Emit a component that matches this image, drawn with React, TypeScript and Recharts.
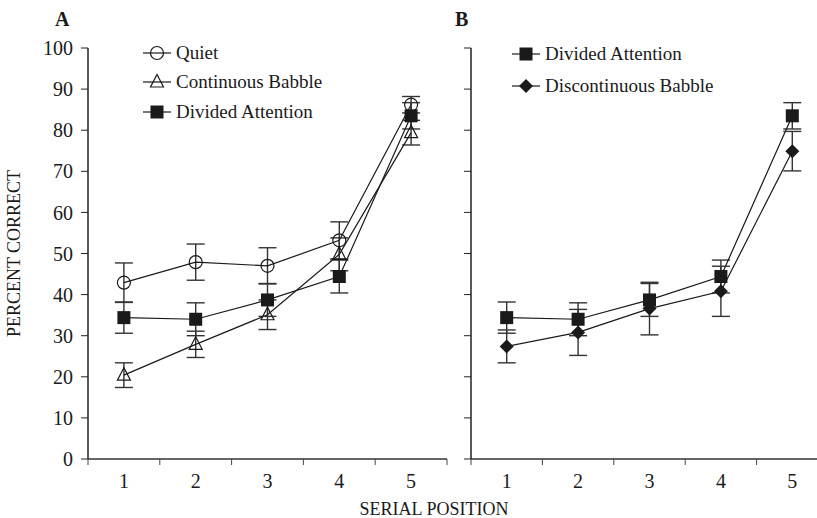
import React from 'react';
import { LineChart, Line, XAxis, YAxis, ErrorBar, Legend } from 'recharts';

const positions = [1, 2, 3, 4, 5];
const boundaryTicks = [0.5, 1.5, 2.5, 3.5, 4.5, 5.5];
const yTicks = [0, 10, 20, 30, 40, 50, 60, 70, 80, 90, 100];

const quiet = [42.9, 47.9, 47.0, 53.2, 86.2];
const quietErr = [4.8, 4.4, 4.4, 4.5, 2.0];
const continuous = [20.4, 27.9, 35.1, 49.8, 79.4];
const continuousErr = [3.0, 3.2, 3.6, 4.0, 3.0];
const divided = [34.4, 34.0, 38.7, 44.4, 83.5];
const dividedErr = [3.8, 4.0, 4.0, 4.0, 3.2];
const discontinuous = [27.4, 30.8, 36.6, 40.8, 74.9];
const discontinuousErr = [4.0, 5.6, 6.4, 6.1, 4.8];

const FONT = '"Liberation Serif", "Times New Roman", serif';
const INK = '#1a1a1a';

const data = positions.map((pos, i) => ({
  pos,
  quiet: quiet[i],
  quietErr: quietErr[i],
  continuous: continuous[i],
  continuousErr: continuousErr[i],
  divided: divided[i],
  dividedErr: dividedErr[i],
  discontinuous: discontinuous[i],
  discontinuousErr: discontinuousErr[i],
}));

// marker shapes, shared by the lines and the legend
const Marker = ({ kind, cx, cy }: { kind: string; cx: number; cy: number }) => {
  if (kind === 'circle') {
    return <circle cx={cx} cy={cy} r={6.5} fill="none" stroke={INK} strokeWidth={1.2} />;
  }
  if (kind === 'triangle') {
    return (
      <polygon
        points={`${cx},${cy - 7.5} ${cx - 6.5},${cy + 5} ${cx + 6.5},${cy + 5}`}
        fill="none"
        stroke={INK}
        strokeWidth={1.2}
      />
    );
  }
  if (kind === 'square') {
    return <rect x={cx - 6.5} y={cy - 6.5} width={13} height={13} fill={INK} />;
  }
  return (
    <polygon points={`${cx},${cy - 7} ${cx + 7},${cy} ${cx},${cy + 7} ${cx - 7},${cy}`} fill={INK} />
  );
};

const dotFor = (kind: string) => (props: any) => (
  <Marker key={`${kind}-${props.index}`} kind={kind} cx={props.cx} cy={props.cy} />
);

const legendContent = (rows: { name: string; kind: string }[], rowH: number) => () => (
  <div style={{ fontFamily: FONT, fontSize: 19, color: INK }}>
    {rows.map((r) => (
      <div key={r.name} style={{ display: 'flex', alignItems: 'center', height: rowH }}>
        <svg width={28} height={18} style={{ marginRight: 5 }}>
          <line x1={0} y1={9} x2={28} y2={9} stroke={INK} strokeWidth={1.2} />
          <Marker kind={r.kind} cx={14} cy={9} />
        </svg>
        <span>{r.name}</span>
      </div>
    ))}
  </div>
);

const xAxes = [
  <XAxis
    key="grid"
    xAxisId="grid"
    type="number"
    dataKey="pos"
    domain={[0.5, 5.5]}
    ticks={boundaryTicks}
    tickFormatter={() => ''}
    tickSize={6}
    height={6}
    axisLine={{ stroke: '#666', strokeWidth: 2 }}
    tickLine={{ stroke: '#444' }}
  />,
  <XAxis
    key="labels"
    xAxisId="labels"
    type="number"
    dataKey="pos"
    domain={[0.5, 5.5]}
    ticks={positions}
    axisLine={false}
    tickLine={false}
    tickSize={0}
    tickMargin={9}
    height={30}
    tick={{ fill: INK, fontSize: 20, fontFamily: FONT }}
  />,
];

const errorBar = (key: string) => (
  <ErrorBar dataKey={key} direction="y" width={9} stroke="#333" strokeWidth={1.4} />
);

export default function App() {
  return (
    <div
      style={{
        position: 'absolute',
        left: 0,
        top: 0,
        width: 817,
        height: 518,
        overflow: 'hidden',
        background: '#fff',
        fontFamily: FONT,
      }}
    >
      <div style={{ position: 'absolute', left: 55, top: 8, fontWeight: 'bold', fontSize: 20, color: INK }}>A</div>
      <div style={{ position: 'absolute', left: 455, top: 8, fontWeight: 'bold', fontSize: 20, color: INK }}>B</div>

      <div style={{ position: 'absolute', left: 0, top: 0 }}>
        <LineChart width={455} height={518} data={data} margin={{ top: 48, right: 8, left: 0, bottom: 23 }}>
          {xAxes}
          <YAxis
            type="number"
            domain={[0, 100]}
            ticks={yTicks}
            interval={0}
            width={88}
            tickSize={7}
            tickMargin={8}
            axisLine={{ stroke: '#222', strokeWidth: 1.5 }}
            tickLine={{ stroke: '#222' }}
            tick={{ fill: INK, fontSize: 20, fontFamily: FONT }}
            label={{
              value: 'PERCENT CORRECT',
              angle: -90,
              position: 'insideLeft',
              offset: 14,
              style: { textAnchor: 'middle', fill: INK, fontSize: 18, fontFamily: FONT },
            }}
          />
          <Legend
            layout="vertical"
            align="center"
            verticalAlign="middle"
            wrapperStyle={{ left: 143, top: 38, width: 260 }}
            content={legendContent(
              [
                { name: 'Quiet', kind: 'circle' },
                { name: 'Continuous Babble', kind: 'triangle' },
                { name: 'Divided Attention', kind: 'square' },
              ],
              29.5,
            )}
          />
          <Line xAxisId="grid" dataKey="quiet" stroke={INK} strokeWidth={1.2} dot={dotFor('circle')} isAnimationActive={false}>
            {errorBar('quietErr')}
          </Line>
          <Line xAxisId="grid" dataKey="continuous" stroke={INK} strokeWidth={1.2} dot={dotFor('triangle')} isAnimationActive={false}>
            {errorBar('continuousErr')}
          </Line>
          <Line xAxisId="grid" dataKey="divided" stroke={INK} strokeWidth={1.2} dot={dotFor('square')} isAnimationActive={false}>
            {errorBar('dividedErr')}
          </Line>
        </LineChart>
      </div>

      <div style={{ position: 'absolute', left: 400, top: 0 }}>
        <LineChart width={440} height={518} data={data} margin={{ top: 48, right: 12, left: 0, bottom: 23 }}>
          {xAxes}
          <YAxis
            type="number"
            domain={[0, 100]}
            ticks={yTicks}
            interval={0}
            width={71}
            tickSize={7}
            tickFormatter={() => ''}
            axisLine={{ stroke: '#222', strokeWidth: 1.5 }}
            tickLine={{ stroke: '#222' }}
          />
          <Legend
            layout="vertical"
            align="center"
            verticalAlign="middle"
            wrapperStyle={{ left: 112, top: 38, width: 260 }}
            content={legendContent(
              [
                { name: 'Divided Attention', kind: 'square' },
                { name: 'Discontinuous Babble', kind: 'diamond' },
              ],
              32,
            )}
          />
          <Line xAxisId="grid" dataKey="divided" stroke={INK} strokeWidth={1.2} dot={dotFor('square')} isAnimationActive={false}>
            {errorBar('dividedErr')}
          </Line>
          <Line xAxisId="grid" dataKey="discontinuous" stroke={INK} strokeWidth={1.2} dot={dotFor('diamond')} isAnimationActive={false}>
            {errorBar('discontinuousErr')}
          </Line>
        </LineChart>
      </div>

      <div
        style={{
          position: 'absolute',
          left: 334,
          width: 200,
          top: 499,
          textAlign: 'center',
          fontSize: 18,
          color: INK,
        }}
      >
        SERIAL POSITION
      </div>
    </div>
  );
}
